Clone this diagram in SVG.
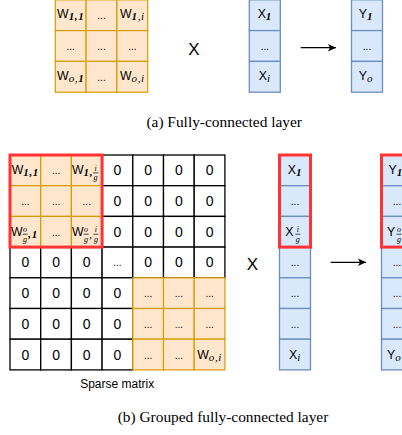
<svg xmlns="http://www.w3.org/2000/svg" width="402" height="435" viewBox="0 0 402 435">
<style>
.o{fill:#ffe6cc;stroke:#d79b00;stroke-width:1.2}
.b{fill:#dae8fc;stroke:#6c8ebf;stroke-width:1.3}
.z{fill:#ffffff;stroke:#000000;stroke-width:1.3}
.r{fill:none;stroke:#ff3333;stroke-width:3}
.t{font-family:"Liberation Sans",Arial,sans-serif;font-size:12.3px;fill:#000}
.m{text-anchor:middle}
.d{font-family:"Liberation Sans",Arial,sans-serif;font-size:10px;fill:#000;text-anchor:middle}
.n{font-family:"Liberation Sans",Arial,sans-serif;font-size:14px;fill:#000;text-anchor:middle}
.s{font-family:"Liberation Serif","Times New Roman",serif;font-style:italic;font-size:11px;letter-spacing:0.6px}
.bd{font-weight:bold}
.f{font-family:"Liberation Serif","Times New Roman",serif;font-style:italic;font-size:8px;fill:#000;text-anchor:middle}
.fb{stroke:#000;stroke-width:0.7}
.big{font-family:"Liberation Sans",Arial,sans-serif;font-size:17px;fill:#000;text-anchor:middle}
.cap{font-family:"Liberation Serif","Times New Roman",serif;font-size:15.4px;fill:#000;text-anchor:middle}
.lbl{font-family:"Liberation Sans",Arial,sans-serif;font-size:12px;fill:#000;text-anchor:middle}
.c{fill:none;stroke:#000;stroke-width:1.3}
</style>
<defs>
<marker id="ah" markerUnits="userSpaceOnUse" markerWidth="9" markerHeight="8" refX="8" refY="4" orient="auto">
<path d="M0,0.3 L8,4 L0,7.7 L2,4 Z" fill="#000"/>
</marker>
</defs>

<!-- (a) fully-connected weight matrix -->
<g id="fc-weights">
<rect class="o" x="55.3" y="-0.2" width="30.8" height="30.8"/>
<rect class="o" x="86.1" y="-0.2" width="30.8" height="30.8"/>
<rect class="o" x="116.9" y="-0.2" width="30.8" height="30.8"/>
<rect class="o" x="55.3" y="30.6" width="30.8" height="30.8"/>
<rect class="o" x="86.1" y="30.6" width="30.8" height="30.8"/>
<rect class="o" x="116.9" y="30.6" width="30.8" height="30.8"/>
<rect class="o" x="55.3" y="61.4" width="30.8" height="30.8"/>
<rect class="o" x="86.1" y="61.4" width="30.8" height="30.8"/>
<rect class="o" x="116.9" y="61.4" width="30.8" height="30.8"/>
<text class="t m" x="70.7" y="18.2">W<tspan class="s bd" dy="2">1,1</tspan></text>
<text class="d" x="101.5" y="19.2">...</text>
<text class="t m" x="132.3" y="18.2">W<tspan class="s" dy="2"><tspan class="bd">1</tspan>,i</tspan></text>
<text class="d" x="70.7" y="50">...</text>
<text class="d" x="101.5" y="50">...</text>
<text class="d" x="132.3" y="50">...</text>
<text class="t m" x="70.7" y="79.8">W<tspan class="s" dy="2">o,<tspan class="bd">1</tspan></tspan></text>
<text class="d" x="101.5" y="80.8">...</text>
<text class="t m" x="132.3" y="79.8">W<tspan class="s" dy="2">o,i</tspan></text>
</g>

<g id="fc-times"><text class="big" x="194" y="54.5">X</text></g>

<g id="fc-input">
<rect class="b" x="249.3" y="-0.2" width="31" height="30.8"/>
<rect class="b" x="249.3" y="30.6" width="31" height="30.8"/>
<rect class="b" x="249.3" y="61.4" width="31" height="30.8"/>
<text class="t m" x="264.8" y="18.2">X<tspan class="s bd" dy="2">1</tspan></text>
<text class="d" x="264.8" y="50">...</text>
<text class="t m" x="264.8" y="79.8">X<tspan class="s" dy="2">i</tspan></text>
</g>

<g id="fc-output">
<rect class="b" x="351.5" y="-0.2" width="31" height="30.8"/>
<rect class="b" x="351.5" y="30.6" width="31" height="30.8"/>
<rect class="b" x="351.5" y="61.4" width="31" height="30.8"/>
<text class="t m" x="366" y="18.2">Y<tspan class="s bd" dy="2">1</tspan></text>
<text class="d" x="367" y="50">...</text>
<text class="t m" x="366" y="79.8">Y<tspan class="s" dy="2">o</tspan></text>
</g>

<g id="caption-a"><text class="cap" x="224.2" y="127.3">(a) Fully-connected layer</text></g>

<!-- (b) grouped fully-connected sparse matrix -->
<g id="gfc-weights">
<rect class="z" x="102.1" y="155" width="30.7" height="30.7"/>
<rect class="z" x="132.8" y="155" width="30.7" height="30.7"/>
<rect class="z" x="163.5" y="155" width="30.7" height="30.7"/>
<rect class="z" x="194.2" y="155" width="30.7" height="30.7"/>
<rect class="z" x="102.1" y="185.7" width="30.7" height="30.7"/>
<rect class="z" x="132.8" y="185.7" width="30.7" height="30.7"/>
<rect class="z" x="163.5" y="185.7" width="30.7" height="30.7"/>
<rect class="z" x="194.2" y="185.7" width="30.7" height="30.7"/>
<rect class="z" x="102.1" y="216.4" width="30.7" height="30.7"/>
<rect class="z" x="132.8" y="216.4" width="30.7" height="30.7"/>
<rect class="z" x="163.5" y="216.4" width="30.7" height="30.7"/>
<rect class="z" x="194.2" y="216.4" width="30.7" height="30.7"/>
<rect class="z" x="10" y="247.1" width="30.7" height="30.7"/>
<rect class="z" x="40.7" y="247.1" width="30.7" height="30.7"/>
<rect class="z" x="71.4" y="247.1" width="30.7" height="30.7"/>
<rect class="z" x="102.1" y="247.1" width="30.7" height="30.7"/>
<rect class="z" x="132.8" y="247.1" width="30.7" height="30.7"/>
<rect class="z" x="163.5" y="247.1" width="30.7" height="30.7"/>
<rect class="z" x="194.2" y="247.1" width="30.7" height="30.7"/>
<rect class="z" x="10" y="277.8" width="30.7" height="30.7"/>
<rect class="z" x="40.7" y="277.8" width="30.7" height="30.7"/>
<rect class="z" x="71.4" y="277.8" width="30.7" height="30.7"/>
<rect class="z" x="102.1" y="277.8" width="30.7" height="30.7"/>
<rect class="z" x="10" y="308.5" width="30.7" height="30.7"/>
<rect class="z" x="40.7" y="308.5" width="30.7" height="30.7"/>
<rect class="z" x="71.4" y="308.5" width="30.7" height="30.7"/>
<rect class="z" x="102.1" y="308.5" width="30.7" height="30.7"/>
<rect class="z" x="10" y="339.2" width="30.7" height="30.7"/>
<rect class="z" x="40.7" y="339.2" width="30.7" height="30.7"/>
<rect class="z" x="71.4" y="339.2" width="30.7" height="30.7"/>
<rect class="z" x="102.1" y="339.2" width="30.7" height="30.7"/>
<rect class="o" x="10" y="155" width="30.7" height="30.7"/>
<rect class="o" x="40.7" y="155" width="30.7" height="30.7"/>
<rect class="o" x="71.4" y="155" width="30.7" height="30.7"/>
<rect class="o" x="10" y="185.7" width="30.7" height="30.7"/>
<rect class="o" x="40.7" y="185.7" width="30.7" height="30.7"/>
<rect class="o" x="71.4" y="185.7" width="30.7" height="30.7"/>
<rect class="o" x="10" y="216.4" width="30.7" height="30.7"/>
<rect class="o" x="40.7" y="216.4" width="30.7" height="30.7"/>
<rect class="o" x="71.4" y="216.4" width="30.7" height="30.7"/>
<rect class="o" x="132.8" y="277.8" width="30.7" height="30.7"/>
<rect class="o" x="163.5" y="277.8" width="30.7" height="30.7"/>
<rect class="o" x="194.2" y="277.8" width="30.7" height="30.7"/>
<rect class="o" x="132.8" y="308.5" width="30.7" height="30.7"/>
<rect class="o" x="163.5" y="308.5" width="30.7" height="30.7"/>
<rect class="o" x="194.2" y="308.5" width="30.7" height="30.7"/>
<rect class="o" x="132.8" y="339.2" width="30.7" height="30.7"/>
<rect class="o" x="163.5" y="339.2" width="30.7" height="30.7"/>
<rect class="o" x="194.2" y="339.2" width="30.7" height="30.7"/>
<rect class="r" x="10" y="155" width="92.1" height="92.1"/>

<text class="t m" x="25.35" y="174.35">W<tspan class="s bd" dy="2">1,1</tspan></text>
<text class="d" x="56.05" y="174.35">...</text>
<text class="t" x="72" y="174.35">W<tspan class="s bd" dy="2">1,</tspan></text>
<text class="f" x="95.6" y="170.6">i</text>
<line class="fb" x1="93" y1="172.9" x2="98.2" y2="172.9"/>
<text class="f" x="95.6" y="180.2">g</text>
<text class="n" x="117.45" y="175.35">0</text>
<text class="n" x="148.15" y="175.35">0</text>
<text class="n" x="178.85" y="175.35">0</text>
<text class="n" x="209.55" y="175.35">0</text>

<text class="d" x="25.35" y="205.05">...</text>
<text class="d" x="56.05" y="205.05">...</text>
<text class="d" x="86.75" y="205.05">...</text>
<text class="n" x="117.45" y="206.05">0</text>
<text class="n" x="148.15" y="206.05">0</text>
<text class="n" x="178.85" y="206.05">0</text>
<text class="n" x="209.55" y="206.05">0</text>

<text class="t" x="11" y="235.75">W</text>
<text class="f" x="25.1" y="232">o</text>
<line class="fb" x1="22.6" y1="234.2" x2="27.6" y2="234.2"/>
<text class="f" x="25.1" y="241.5">g</text>
<text class="s bd" x="28.3" y="237.75" style="fill:#000">,1</text>
<text class="d" x="56.05" y="235.75">...</text>
<text class="t" x="72" y="235.75">W</text>
<text class="f" x="86.1" y="232">o</text>
<line class="fb" x1="83.6" y1="234.2" x2="88.6" y2="234.2"/>
<text class="f" x="86.1" y="241.5">g</text>
<text class="s" x="89.2" y="237.75" style="fill:#000">,</text>
<text class="f" x="95.9" y="232">i</text>
<line class="fb" x1="93.4" y1="234.2" x2="98.4" y2="234.2"/>
<text class="f" x="95.9" y="241.5">g</text>
<text class="n" x="117.45" y="236.75">0</text>
<text class="n" x="148.15" y="236.75">0</text>
<text class="n" x="178.85" y="236.75">0</text>
<text class="n" x="209.55" y="236.75">0</text>

<text class="n" x="25.35" y="267.45">0</text>
<text class="n" x="56.05" y="267.45">0</text>
<text class="n" x="86.75" y="267.45">0</text>
<text class="d" x="117.45" y="266.45">...</text>
<text class="n" x="148.15" y="267.45">0</text>
<text class="n" x="178.85" y="267.45">0</text>
<text class="n" x="209.55" y="267.45">0</text>

<text class="n" x="25.35" y="298.15">0</text>
<text class="n" x="56.05" y="298.15">0</text>
<text class="n" x="86.75" y="298.15">0</text>
<text class="n" x="117.45" y="298.15">0</text>
<text class="d" x="148.15" y="297.15">...</text>
<text class="d" x="178.85" y="297.15">...</text>
<text class="d" x="209.55" y="297.15">...</text>

<text class="n" x="25.35" y="328.85">0</text>
<text class="n" x="56.05" y="328.85">0</text>
<text class="n" x="86.75" y="328.85">0</text>
<text class="n" x="117.45" y="328.85">0</text>
<text class="d" x="148.15" y="327.85">...</text>
<text class="d" x="178.85" y="327.85">...</text>
<text class="d" x="209.55" y="327.85">...</text>

<text class="n" x="25.35" y="359.55">0</text>
<text class="n" x="56.05" y="359.55">0</text>
<text class="n" x="86.75" y="359.55">0</text>
<text class="n" x="117.45" y="359.55">0</text>
<text class="d" x="148.15" y="358.55">...</text>
<text class="d" x="178.85" y="358.55">...</text>
<text class="t m" x="209.55" y="358.55">W<tspan class="s" dy="2">o,i</tspan></text>
</g>

<g id="sparse-label"><text class="lbl" x="117.2" y="387.5">Sparse matrix</text></g>

<g id="gfc-times"><text class="big" x="252.3" y="270">X</text></g>

<g id="gfc-input">
<rect class="b" x="279.5" y="155" width="31" height="30.7"/>
<rect class="b" x="279.5" y="185.7" width="31" height="30.7"/>
<rect class="b" x="279.5" y="216.4" width="31" height="30.7"/>
<rect class="b" x="279.5" y="247.1" width="31" height="30.7"/>
<rect class="b" x="279.5" y="277.8" width="31" height="30.7"/>
<rect class="b" x="279.5" y="308.5" width="31" height="30.7"/>
<rect class="b" x="279.5" y="339.2" width="31" height="30.7"/>
<rect class="r" x="279.5" y="155" width="31" height="92.1"/>
<text class="t m" x="295" y="174.35">X<tspan class="s bd" dy="2">1</tspan></text>
<text class="d" x="295" y="205.05">...</text>
<text class="t" x="285.3" y="235.75">X</text>
<text class="f" x="297.8" y="232">i</text>
<line class="fb" x1="295.3" y1="234.2" x2="300.3" y2="234.2"/>
<text class="f" x="297.8" y="241.5">g</text>
<text class="d" x="295" y="266.45">...</text>
<text class="d" x="295" y="297.15">...</text>
<text class="d" x="295" y="327.85">...</text>
<text class="t m" x="295" y="358.55">X<tspan class="s" dy="2">i</tspan></text>
</g>

<g id="gfc-output">
<rect class="b" x="381.5" y="155" width="31" height="30.7"/>
<rect class="b" x="381.5" y="185.7" width="31" height="30.7"/>
<rect class="b" x="381.5" y="216.4" width="31" height="30.7"/>
<rect class="b" x="381.5" y="247.1" width="31" height="30.7"/>
<rect class="b" x="381.5" y="277.8" width="31" height="30.7"/>
<rect class="b" x="381.5" y="308.5" width="31" height="30.7"/>
<rect class="b" x="381.5" y="339.2" width="31" height="30.7"/>
<rect class="r" x="381.5" y="155" width="31" height="92.1"/>
<text class="t" x="388.5" y="174.35">Y<tspan class="s bd" dy="2">1</tspan></text>
<text class="d" x="397" y="205.05">...</text>
<text class="t" x="387" y="235.75">Y</text>
<text class="f" x="399" y="232">o</text>
<line class="fb" x1="396.5" y1="234.2" x2="401.5" y2="234.2"/>
<text class="f" x="399" y="241.5">g</text>
<text class="d" x="397" y="266.45">...</text>
<text class="d" x="397" y="297.15">...</text>
<text class="d" x="397" y="327.85">...</text>
<text class="t" x="387" y="358.55">Y<tspan class="s" dy="2">o</tspan></text>
</g>

<g id="caption-b"><text class="cap" x="223" y="421.7">(b) Grouped fully-connected layer</text></g>

<g id="connectors">
<line class="c" x1="300.7" y1="47.7" x2="336" y2="47.7" marker-end="url(#ah)"/>
<line class="c" x1="330.7" y1="262.3" x2="366" y2="262.3" marker-end="url(#ah)"/>
</g>
</svg>
